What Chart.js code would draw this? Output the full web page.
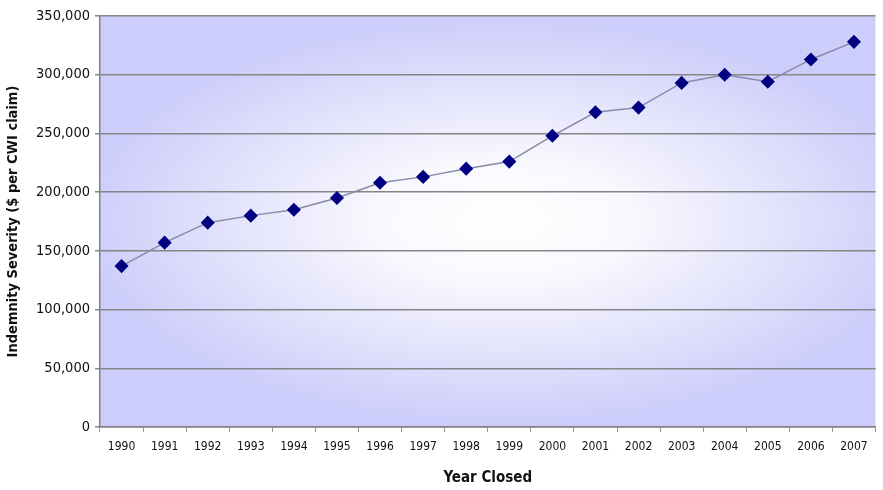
<!DOCTYPE html>
<html>
<head>
<meta charset="utf-8">
<script src="https://cdn.jsdelivr.net/npm/chart.js@4.4.1/dist/chart.umd.min.js"></script>
<style>
  html, body { margin: 0; padding: 0; background: #fff; }
  #wrap { width: 883px; height: 490px; }
</style>
</head>
<body>
<div id="wrap"><canvas id="chartCanvas"></canvas></div>
<script>
const years = ["1990", "1991", "1992", "1993", "1994", "1995", "1996", "1997", "1998",
  "1999", "2000", "2001", "2002", "2003", "2004", "2005", "2006", "2007"];
const severity = [137000, 157000, 174000, 180000, 185000, 195000, 208000, 213000, 220000,
  226000, 248000, 268000, 272000, 293000, 300000, 294000, 313000, 328000];

const FONT = "'Liberation Sans Narrow', 'Arial Narrow', 'DejaVu Sans Condensed', sans-serif";

// soft lavender backdrop, fading to white in the middle
const plotBackground = {
  id: "plotBackground",
  beforeDraw(chart) {
    const { ctx, chartArea: a } = chart;
    const cx = a.left + (a.right - a.left) * 0.52;
    const cy = a.top + (a.bottom - a.top) * 0.5;
    const rx = (a.right - a.left) * 0.55;
    const ry = (a.bottom - a.top) * 0.5;
    ctx.save();
    ctx.beginPath();
    ctx.rect(a.left, a.top, a.right - a.left, a.bottom - a.top);
    ctx.clip();
    ctx.translate(cx, cy);
    ctx.scale(1, ry / rx);
    const g = ctx.createRadialGradient(0, 0, 0, 0, 0, rx);
    g.addColorStop(0, "#ffffff");
    g.addColorStop(0.3, "#f8f8fe");
    g.addColorStop(0.65, "#e2e2fc");
    g.addColorStop(0.95, "#cfcffb");
    g.addColorStop(1, "#cdcdfb");
    ctx.fillStyle = g;
    ctx.fillRect(-rx * 2, -rx * 2, rx * 4, rx * 4);
    ctx.restore();
  }
};

const ctx = document.getElementById("chartCanvas").getContext("2d");
new Chart(ctx, {
  type: "line",
  data: {
    labels: years,
    datasets: [{
      data: severity,
      borderColor: "#8a88a8",
      borderWidth: 1.5,
      pointStyle: "rectRot",
      pointRadius: 6,
      pointHoverRadius: 6,
      pointBackgroundColor: "#000080",
      pointBorderColor: "#000080",
      tension: 0
    }]
  },
  plugins: [plotBackground],
  options: {
    responsive: true,
    maintainAspectRatio: false,
    animation: false,
    layout: { padding: { top: 16, right: 5, left: 0, bottom: 0 } },
    plugins: { legend: { display: false }, tooltip: { enabled: false } },
    scales: {
      x: {
        offset: true,
        grid: { offset: true, drawOnChartArea: false, tickLength: 5, color: "#999", lineWidth: 1 },
        border: { color: "#808080", width: 1.5 },
        ticks: { color: "#111", padding: 8, maxRotation: 0, autoSkip: false,
          font: { family: FONT, size: 12 } },
        title: { display: true, text: "Year Closed", color: "#111",
          font: { family: FONT, size: 15, weight: "bold" }, padding: { top: 0, bottom: 3 } },
        afterFit(scale) { scale.height = 63; }
      },
      y: {
        min: 0,
        max: 350000,
        ticks: { stepSize: 50000, color: "#111", padding: 5,
          font: { family: FONT, size: 14.5 },
          callback: v => v.toLocaleString("en-US") },
        grid: { color: "#858585", lineWidth: 1.5, tickLength: 5 },
        border: { color: "#808080", width: 1.5 },
        title: { display: true, text: "Indemnity Severity ($ per CWI claim)", color: "#111",
          font: { family: FONT, size: 14.5, weight: "bold" }, padding: { top: 5, bottom: 0 } },
        afterFit(scale) { scale.width = 100; }
      }
    }
  }
});
</script>
</body>
</html>
